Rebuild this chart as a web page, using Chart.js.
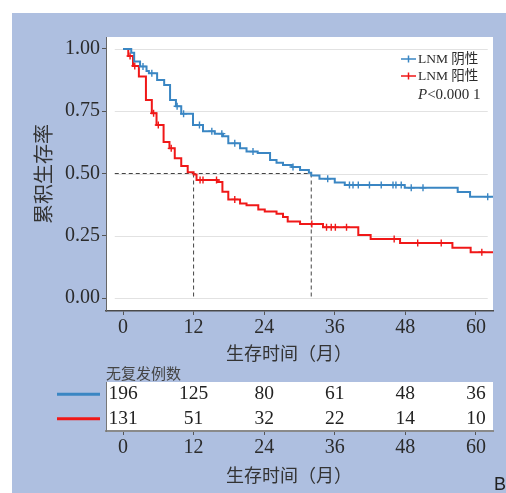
<!DOCTYPE html>
<html lang="zh-CN">
<head>
<meta charset="utf-8">
<title>LNM 生存曲线</title>
<script src="https://cdn.jsdelivr.net/npm/chart.js@4.4.1/dist/chart.umd.min.js"></script>
<style>
    body { margin: 0; background: #fff; width: 506px; height: 493px; position: relative; overflow: hidden; }
    #bg { position: absolute; left: 12px; top: 13px; width: 494px; height: 480px; background: #aebfe0; }
    #km { position: absolute; left: 0; top: 0; }
    #risk { position: absolute; left: 0; top: 360px; }
    #panel-label { position: absolute; left: 494px; top: 475px; font: 18px 'Liberation Sans', sans-serif; line-height: 18px; color: #222; }
</style>
</head>
<body>
<div id="bg"></div>
<canvas id="km" width="506" height="380"></canvas>
<canvas id="risk" width="506" height="133"></canvas>
<div id="panel-label">B</div>
<script>
// 系列名
const seriesNames = ['LNM 阴性', 'LNM 阳性'];
const pValueText = '<0.000 1';
const xTitle = '生存时间（月）';
const yTitle = '累积生存率';
const tableTitle = '无复发例数';

// LNM 阴性 (生存率の段差)
const negTimes = [0, 1.4, 1.9, 2.9, 4.0, 4.4, 5.8, 7.0, 8.0, 9.0, 9.9, 11.9, 13.6, 15.6, 17.0, 17.9, 19.9, 21.0, 22.9, 25.0, 26.1, 27.2, 28.7, 30.1, 31.6, 32.0, 33.4, 36.0, 37.7, 47.9, 56.9, 59.0, 63];
const negSurv = [1, 0.985, 0.95, 0.93, 0.912, 0.902, 0.875, 0.855, 0.795, 0.77, 0.74, 0.695, 0.67, 0.66, 0.65, 0.621, 0.601, 0.588, 0.582, 0.554, 0.543, 0.534, 0.526, 0.514, 0.503, 0.492, 0.479, 0.464, 0.454, 0.443, 0.426, 0.407, 0.407];
const negCensorTimes = [3.4, 4.9, 9.2, 10.3, 13.0, 15.1, 16.8, 19.0, 22.1, 28.9, 34.8, 38.5, 39.1, 40.0, 41.9, 43.9, 45.9, 46.4, 47.3, 49.0, 51.0, 62.0];

// LNM 阳性
const posTimes = [0, 0.9, 1.7, 2.7, 3.9, 4.9, 5.7, 6.9, 7.9, 8.8, 9.9, 11.0, 12.0, 12.5, 16.1, 16.9, 17.9, 19.9, 21.0, 23.0, 24.1, 26.1, 27.2, 28.0, 30.1, 34.0, 40.0, 42.1, 47.1, 56.0, 59.1, 63];
const posSurv = [1, 0.972, 0.932, 0.889, 0.795, 0.742, 0.695, 0.626, 0.601, 0.561, 0.53, 0.505, 0.496, 0.474, 0.466, 0.427, 0.396, 0.38, 0.373, 0.355, 0.347, 0.338, 0.325, 0.307, 0.297, 0.284, 0.253, 0.237, 0.221, 0.202, 0.184, 0.184];
const posCensorTimes = [1.2, 2.0, 5.2, 6.0, 8.2, 13.1, 13.6, 15.9, 19.0, 32.1, 34.6, 35.4, 36.1, 38.0, 46.1, 50.1, 54.1, 61.0];

// 中位生存時間
const medianTimes = [12, 32];

// 無再発例数
const riskTimes = [0, 12, 24, 36, 48, 60];
const negAtRisk = [196, 125, 80, 61, 48, 36];
const posAtRisk = [131, 51, 32, 22, 14, 10];

// 目盛り
const xTicks = [0, 12, 24, 36, 48, 60];
const yTicks = [0, 0.25, 0.5, 0.75, 1];

const negColor = '#3a86c3';
const posColor = '#f01818';
const serifFont = "'Liberation Serif', 'Noto Sans CJK SC', serif";
const cjkFont = "'Noto Sans CJK SC', sans-serif";
const xMin = -2.89;
const xMax = 62.9;

/**
 * ある時点の生存率を段差データから取得します。
 */
const survivalAt = (times, surv, t) => {
    let s = surv[0];
    times.forEach((time, i) => {
        if (time <= t) {
            s = surv[i];
        }
    });
    return s;
};

const toPoints = (times, values) => times.map((t, i) => ({ x: t, y: values[i] }));

const censorPoints = (censorTimes, times, surv) =>
    censorTimes.map((t) => ({ x: t, y: survivalAt(times, surv, t) }));

const xScaleBase = () => ({
    type: 'linear',
    min: xMin,
    max: xMax,
    afterBuildTicks: (scale) => {
        scale.ticks = xTicks.map((v) => ({ value: v }));
    },
    grid: { drawOnChartArea: false, tickLength: 4, color: '#555' },
    ticks: { font: { family: serifFont, size: 20 }, color: '#2b2b2b', padding: 1, maxRotation: 0 },
});

/**
 * 生存曲線の背景・補助線・凡例を描画します。
 */
const kmPlugin = {
    id: 'kmDecor',
    beforeDraw: (chart) => {
        const { ctx, chartArea } = chart;
        ctx.save();
        ctx.fillStyle = '#fff';
        ctx.fillRect(chartArea.left, chartArea.top, chartArea.right - chartArea.left, chartArea.bottom - chartArea.top);
        ctx.restore();
    },
    beforeDatasetsDraw: (chart) => {
        const { ctx } = chart;
        const x = chart.scales.x;
        const y = chart.scales.y;

        ctx.save();
        ctx.strokeStyle = '#e2e2e2';
        ctx.lineWidth = 1.2;
        yTicks.forEach((v) => {
            const py = Math.round(y.getPixelForValue(v)) + 0.5;
            ctx.beginPath();
            ctx.moveTo(x.getPixelForValue(-1.4), py);
            ctx.lineTo(x.getPixelForValue(62.0), py);
            ctx.stroke();
        });

        ctx.strokeStyle = '#444';
        ctx.lineWidth = 1;
        ctx.setLineDash([4, 3]);
        const half = y.getPixelForValue(0.5);
        ctx.beginPath();
        ctx.moveTo(x.getPixelForValue(-1.4), half);
        ctx.lineTo(x.getPixelForValue(medianTimes[1]), half);
        medianTimes.forEach((t) => {
            const px = x.getPixelForValue(t);
            ctx.moveTo(px, half);
            ctx.lineTo(px, y.getPixelForValue(0));
        });
        ctx.stroke();
        ctx.restore();
    },
    afterDraw: (chart) => {
        const { ctx, chartArea } = chart;
        ctx.save();
        ctx.fillStyle = '#333';
        ctx.font = '18px ' + cjkFont;
        ctx.textAlign = 'center';
        ctx.textBaseline = 'middle';
        ctx.fillText(xTitle, 289, 353);

        ctx.font = '20px ' + cjkFont;
        ctx.translate(43, (chartArea.top + chartArea.bottom) / 2);
        ctx.rotate(-Math.PI / 2);
        ctx.fillText(yTitle, 0, 0);
        ctx.restore();

        // 凡例
        ctx.save();
        const lx = chartArea.right - 92;
        [negColor, posColor].forEach((color, i) => {
            const ly = 59 + i * 17;
            ctx.strokeStyle = color;
            ctx.lineWidth = 1.5;
            ctx.beginPath();
            ctx.moveTo(lx, ly);
            ctx.lineTo(lx + 15, ly);
            ctx.moveTo(lx + 7.5, ly - 3.5);
            ctx.lineTo(lx + 7.5, ly + 3.5);
            ctx.stroke();
            ctx.fillStyle = '#2b2b2b';
            ctx.font = '13.5px ' + serifFont;
            ctx.textAlign = 'left';
            ctx.textBaseline = 'middle';
            ctx.fillText(seriesNames[i], lx + 17, ly);
        });
        ctx.font = 'italic 15px ' + serifFont;
        ctx.fillText('P', lx + 17, 95);
        const pw = ctx.measureText('P').width;
        ctx.font = '15px ' + serifFont;
        ctx.fillText(pValueText, lx + 17 + pw, 95);
        ctx.restore();
    },
};

const createKmChart = () => {
    const config = {
        type: 'scatter',
        data: {
            datasets: [
                {
                    label: seriesNames[0],
                    data: toPoints(negTimes, negSurv),
                    showLine: true,
                    stepped: true,
                    borderColor: negColor,
                    borderWidth: 2,
                    pointRadius: 0,
                },
                {
                    label: seriesNames[1],
                    data: toPoints(posTimes, posSurv),
                    showLine: true,
                    stepped: true,
                    borderColor: posColor,
                    borderWidth: 2,
                    pointRadius: 0,
                },
                {
                    label: 'neg-censor',
                    data: censorPoints(negCensorTimes, negTimes, negSurv),
                    showLine: false,
                    pointStyle: 'cross',
                    pointRadius: 3.5,
                    borderColor: negColor,
                    borderWidth: 1.4,
                },
                {
                    label: 'pos-censor',
                    data: censorPoints(posCensorTimes, posTimes, posSurv),
                    showLine: false,
                    pointStyle: 'cross',
                    pointRadius: 3.5,
                    borderColor: posColor,
                    borderWidth: 1.4,
                },
            ],
        },
        options: {
            responsive: false,
            animation: false,
            devicePixelRatio: 1,
            events: [],
            layout: { padding: { top: 37, right: 13, left: 0, bottom: 0 } },
            plugins: { legend: { display: false }, tooltip: { enabled: false } },
            scales: {
                x: Object.assign(xScaleBase(), {
                    afterFit: (scale) => {
                        scale.height = 69;
                    },
                    border: { color: '#4a4a4a', width: 1.5 },
                }),
                y: {
                    type: 'linear',
                    min: -0.052,
                    max: 1.048,
                    afterBuildTicks: (scale) => {
                        scale.ticks = yTicks.map((v) => ({ value: v }));
                    },
                    afterFit: (scale) => {
                        scale.width = 106;
                    },
                    grid: { drawOnChartArea: false, tickLength: 4, color: '#555' },
                    border: { color: '#666', width: 1 },
                    ticks: {
                        font: { family: serifFont, size: 20 },
                        color: '#2b2b2b',
                        padding: 2,
                        callback: (value) => value.toFixed(2),
                    },
                },
            },
        },
        plugins: [kmPlugin],
    };

    new Chart(document.getElementById('km'), config);
};

/**
 * 無再発例数の表を描画します。
 */
const riskPlugin = {
    id: 'riskDecor',
    beforeDraw: (chart) => {
        const { ctx, chartArea } = chart;
        ctx.save();
        ctx.fillStyle = '#fff';
        ctx.fillRect(chartArea.left, chartArea.top, chartArea.right - chartArea.left, chartArea.bottom - chartArea.top);
        ctx.restore();
    },
    afterDraw: (chart) => {
        const { ctx, chartArea } = chart;
        const y = chart.scales.y;
        ctx.save();
        ctx.fillStyle = '#444';
        ctx.font = '15px ' + cjkFont;
        ctx.textAlign = 'left';
        ctx.textBaseline = 'middle';
        ctx.fillText(tableTitle, chartArea.left, 13);

        [negColor, posColor].forEach((color, i) => {
            const ly = y.getPixelForValue(i + 0.5);
            ctx.strokeStyle = color;
            ctx.lineWidth = 3;
            ctx.beginPath();
            ctx.moveTo(57, ly);
            ctx.lineTo(100, ly);
            ctx.stroke();
        });

        ctx.fillStyle = '#222';
        ctx.font = '19.5px ' + serifFont;
        ctx.textAlign = 'center';
        chart.data.datasets.forEach((dataset, i) => {
            const meta = chart.getDatasetMeta(i);
            meta.data.forEach((point, j) => {
                const label = String(dataset.counts[j]);
                let px = point.x;
                const w = ctx.measureText(label).width;
                if (px - w / 2 < chartArea.left) {
                    px = chartArea.left + w / 2;
                }
                ctx.fillText(label, px, point.y);
            });
        });

        ctx.fillStyle = '#333';
        ctx.font = '18px ' + cjkFont;
        ctx.fillText(xTitle, 289, 115);
        ctx.restore();
    },
};

const createRiskTable = () => {
    const rows = [negAtRisk, posAtRisk];
    const datasets = rows.map((counts, i) => ({
        label: seriesNames[i],
        counts: counts,
        data: riskTimes.map((t) => ({ x: t, y: i + 0.5 })),
        pointRadius: 0,
    }));

    const config = {
        type: 'scatter',
        data: { datasets: datasets },
        options: {
            responsive: false,
            animation: false,
            devicePixelRatio: 1,
            events: [],
            layout: { padding: { top: 22, right: 13, left: 0, bottom: 0 } },
            plugins: { legend: { display: false }, tooltip: { enabled: false } },
            scales: {
                x: Object.assign(xScaleBase(), {
                    afterFit: (scale) => {
                        scale.height = 62;
                    },
                    border: { color: '#8a8a8a', width: 2 },
                }),
                y: {
                    type: 'linear',
                    min: 0,
                    max: 2,
                    reverse: true,
                    afterFit: (scale) => {
                        scale.width = 106;
                    },
                    grid: { display: false },
                    border: { color: '#777', width: 1 },
                    ticks: { display: false },
                },
            },
        },
        plugins: [riskPlugin],
    };

    new Chart(document.getElementById('risk'), config);
};

createKmChart();
createRiskTable();
</script>
</body>
</html>
